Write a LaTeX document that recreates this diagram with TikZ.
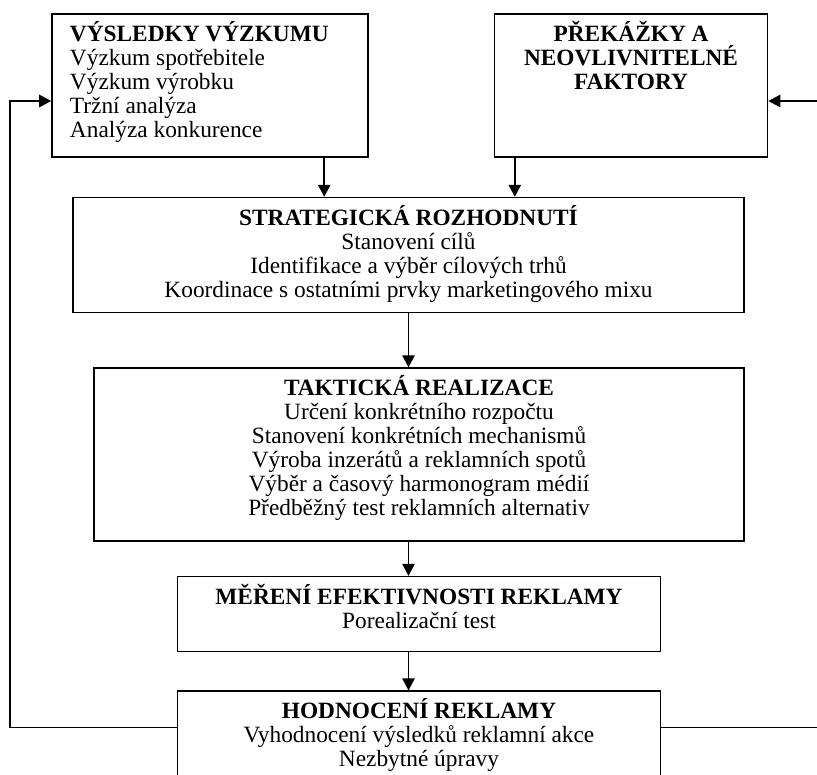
\documentclass[tikz,border=0pt]{standalone}
\usepackage{fontspec}
\setmainfont{Liberation Serif}
\usepackage{tikz}
\usetikzlibrary{arrows.meta,calc,positioning}
\newcommand{\boxfont}{\fontsize{16.6}{17.07}\selectfont}
\newcommand{\firstline}{\rule{0pt}{6mm}}

\begin{document}
\begin{tikzpicture}[x=0.25mm, y=-0.25mm, >={Triangle[length=3mm,width=3.1mm]},
       line width=1.1pt, text=black,
       every node/.style={font=\boxfont},
       stagebox/.style 2 args = {rectangle, draw, inner sep=0pt,
                                 minimum width=#1, minimum height=#2},
       boxtext/.style = {anchor=north, inner sep=0pt, align=center, yshift=-0.9mm}]
	\useasboundingbox (0,0) rectangle (817,774);
	\clip (0,0) rectangle (817,774);
	%% Inputs
	\node [stagebox={79mm}{35.75mm},
	       label={[boxtext,anchor=north west,align=left,xshift=4.5mm,name=res_txt]north west:{\firstline\textbf{VÝSLEDKY VÝZKUMU}\\Výzkum spotřebitele\\Výzkum výrobku\\Tržní analýza\\Analýza konkurence}}] (res) at (210,85.5) {};
	\node [stagebox={68.25mm}{35.75mm},right=31.25mm of res,
	       label={[boxtext,name=obst_txt]north:{\firstline\textbf{PŘEKÁŽKY A}\\\textbf{NEOVLIVNITELNÉ}\\\textbf{FAKTORY}}}] (obst) {};
	%% Stages
	\node [stagebox={167.75mm}{28.75mm},below right=9.75mm and 5.25mm of res.south west,
	       label={[boxtext,name=strat_txt]north:{\firstline\textbf{STRATEGICKÁ ROZHODNUTÍ}\\Stanovení cílů\\Identifikace a výběr cílových trhů\\Koordinace s ostatními prvky marketingového mixu}}] (strat) {};
	\node [stagebox={162.5mm}{43.25mm},below left=13.5mm and 0mm of strat.south east,
	       label={[boxtext,name=takt_txt]north:{\firstline\textbf{TAKTICKÁ REALIZACE}\\Určení konkrétního rozpočtu\\Stanovení konkrétních mechanismů\\Výroba inzerátů a reklamních spotů\\Výběr a časový harmonogram médií\\Předběžný test reklamních alternativ}}] (takt) {};
	\node [stagebox={120.75mm}{18.75mm},below=8.5mm of takt,
	       label={[boxtext,name=meas_txt]north:{\firstline\textbf{MĚŘENÍ EFEKTIVNOSTI REKLAMY}\\Porealizační test}}] (meas) {};
	\node [stagebox={120.75mm}{28mm},below=9.5mm of meas,
	       label={[boxtext,name=eval_txt]north:{\firstline\textbf{HODNOCENÍ REKLAMY}\\Vyhodnocení výsledků reklamní akce\\Nezbytné úpravy}}] (eval) {};

	%% Downward flow
	\draw[->] ($(res.south west)+(273,0)$) coordinate (rs) -- (rs |- strat.north);
	\draw[->] ($(obst.south west)+(21,0)$) coordinate (os) -- (os |- strat.north);
	\draw[->] (strat) -- (strat.south |- takt.north);
	\draw[->] (takt.south -| strat.south) -- (meas.north -| strat.south);
	\draw[->] (meas.south -| strat.south) -- (eval.north -| strat.south);
	%% Feedback loops
	\coordinate (fbl) at ($(eval.north west)+(0,37)$);
	\coordinate (fbr) at ($(eval.north east)+(0,37)$);
	\coordinate (lp) at (10,101);
	\coordinate (rp) at (830,101);
	\draw[->] (fbl) -| (lp) -- (lp -| res.west);
	\draw[->] (fbr) -| (rp) -- (rp -| obst.east);
\end{tikzpicture}
\end{document}
